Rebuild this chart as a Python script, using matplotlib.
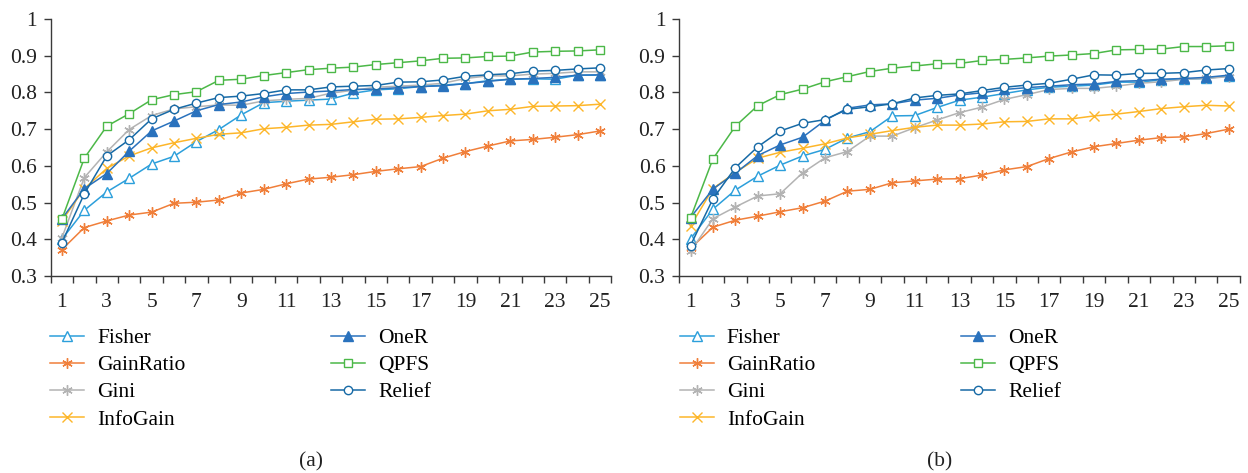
import matplotlib
matplotlib.use("Agg")
import matplotlib.pyplot as plt

plt.rcParams['font.family'] = ['Liberation Serif', 'DejaVu Serif']

x = list(range(1, 26))
methods = ["Fisher", "GainRatio", "Gini", "InfoGain", "OneR", "QPFS", "Relief"]

fisher_a = [0.400, 0.479, 0.529, 0.566, 0.605, 0.626, 0.666, 0.699, 0.739, 0.772, 0.776, 0.779, 0.782, 0.798, 0.807, 0.810, 0.816, 0.820, 0.824, 0.832, 0.836, 0.837, 0.836, 0.847, 0.847]
gainratio_a = [0.372, 0.432, 0.450, 0.466, 0.474, 0.498, 0.501, 0.507, 0.526, 0.536, 0.551, 0.564, 0.569, 0.576, 0.585, 0.592, 0.598, 0.621, 0.639, 0.654, 0.668, 0.672, 0.678, 0.685, 0.695]
gini_a = [0.404, 0.568, 0.638, 0.699, 0.737, 0.755, 0.761, 0.766, 0.765, 0.777, 0.781, 0.784, 0.798, 0.806, 0.814, 0.817, 0.820, 0.825, 0.838, 0.845, 0.845, 0.850, 0.852, 0.856, 0.856]
infogain_a = [0.450, 0.538, 0.593, 0.627, 0.649, 0.663, 0.675, 0.686, 0.690, 0.701, 0.705, 0.711, 0.713, 0.720, 0.727, 0.728, 0.732, 0.737, 0.741, 0.750, 0.754, 0.762, 0.763, 0.764, 0.768]
oner_a = [0.456, 0.538, 0.579, 0.640, 0.695, 0.722, 0.750, 0.767, 0.774, 0.788, 0.797, 0.801, 0.804, 0.808, 0.809, 0.813, 0.816, 0.818, 0.824, 0.830, 0.836, 0.838, 0.841, 0.847, 0.848]
qpfs_a = [0.455, 0.621, 0.708, 0.742, 0.780, 0.794, 0.802, 0.833, 0.836, 0.846, 0.854, 0.862, 0.866, 0.869, 0.876, 0.881, 0.886, 0.893, 0.894, 0.898, 0.899, 0.910, 0.912, 0.913, 0.916]
relief_a = [0.391, 0.524, 0.627, 0.671, 0.728, 0.754, 0.771, 0.786, 0.790, 0.797, 0.807, 0.807, 0.815, 0.817, 0.819, 0.828, 0.829, 0.834, 0.844, 0.848, 0.851, 0.858, 0.860, 0.864, 0.867]

fisher_b = [0.401, 0.482, 0.534, 0.572, 0.602, 0.627, 0.645, 0.676, 0.693, 0.736, 0.737, 0.759, 0.779, 0.787, 0.797, 0.807, 0.814, 0.817, 0.820, 0.828, 0.828, 0.834, 0.836, 0.838, 0.845]
gainratio_b = [0.375, 0.433, 0.452, 0.463, 0.475, 0.486, 0.504, 0.531, 0.536, 0.554, 0.559, 0.564, 0.565, 0.575, 0.589, 0.598, 0.620, 0.638, 0.652, 0.661, 0.670, 0.677, 0.679, 0.688, 0.700]
gini_b = [0.367, 0.456, 0.488, 0.518, 0.524, 0.581, 0.622, 0.639, 0.681, 0.681, 0.704, 0.725, 0.745, 0.760, 0.781, 0.794, 0.808, 0.811, 0.811, 0.817, 0.825, 0.829, 0.836, 0.838, 0.843]
infogain_b = [0.436, 0.538, 0.582, 0.621, 0.637, 0.648, 0.660, 0.676, 0.686, 0.696, 0.705, 0.711, 0.711, 0.714, 0.720, 0.721, 0.728, 0.728, 0.736, 0.741, 0.748, 0.756, 0.761, 0.765, 0.763]
oner_b = [0.459, 0.537, 0.580, 0.628, 0.657, 0.678, 0.724, 0.757, 0.766, 0.769, 0.779, 0.784, 0.793, 0.799, 0.808, 0.813, 0.817, 0.821, 0.823, 0.830, 0.832, 0.836, 0.838, 0.841, 0.847]
qpfs_b = [0.458, 0.619, 0.708, 0.764, 0.794, 0.809, 0.829, 0.843, 0.857, 0.866, 0.872, 0.878, 0.879, 0.887, 0.890, 0.894, 0.899, 0.902, 0.906, 0.916, 0.917, 0.918, 0.925, 0.925, 0.927]
relief_b = [0.383, 0.510, 0.595, 0.652, 0.695, 0.716, 0.726, 0.754, 0.761, 0.769, 0.785, 0.792, 0.796, 0.805, 0.814, 0.820, 0.825, 0.836, 0.848, 0.847, 0.852, 0.852, 0.854, 0.861, 0.865]

yticks = [0.3, 0.4, 0.5, 0.6, 0.7, 0.8, 0.9, 1.0]
ytick_labels = ["0.3", "0.4", "0.5", "0.6", "0.7", "0.8", "0.9", "1"]
xtick_labels = [str(v) for v in range(1, 26, 2)]
panel_labels = ["(a)", "(b)"]

styles = {
    "Fisher":    dict(color="#2C9FDB", marker="^", mfc="white"),
    "GainRatio": dict(color="#F07F3A", marker=(6, 2, 0), mfc="#F07F3A"),
    "Gini":      dict(color="#B3B3B3", marker=(6, 2, 0), mfc="#B3B3B3"),
    "InfoGain":  dict(color="#FDB62A", marker="x", mfc="#FDB62A"),
    "OneR":      dict(color="#2A72BD", marker="^", mfc="#2A72BD"),
    "QPFS":      dict(color="#4CB848", marker="s", mfc="white"),
    "Relief":    dict(color="#176AA6", marker="o", mfc="white"),
}
msize = {"Fisher": 6.5, "GainRatio": 7.5, "Gini": 7.5, "InfoGain": 7, "OneR": 6.5, "QPFS": 6, "Relief": 6}

data = [
    dict(zip(methods, [fisher_a, gainratio_a, gini_a, infogain_a, oner_a, qpfs_a, relief_a])),
    dict(zip(methods, [fisher_b, gainratio_b, gini_b, infogain_b, oner_b, qpfs_b, relief_b])),
]

W, H = 1248, 473
fig = plt.figure(figsize=(W / 100, H / 100), dpi=100)

ax_left_px = [50.7, 679.3]
ax_w_px = 560.5
ax_bottom_px = 276
ax_top_px = 19
caption_x_px = [311, 940]
leg_col1_px = [50, 679.5]
leg_col2_px = [331, 961]
leg_top_px = 328
FS = 15.5
dark = "#3a3a3a"

for i in range(2):
    ax = fig.add_axes([ax_left_px[i] / W, 1 - ax_bottom_px / H, ax_w_px / W, (ax_bottom_px - ax_top_px) / H])
    handles = []
    for m in methods:
        st = styles[m]
        h, = ax.plot(x, data[i][m], color=st["color"], lw=1.1, marker=st["marker"],
                     markersize=msize[m], markerfacecolor=st["mfc"], markeredgecolor=st["color"],
                     markeredgewidth=1.0, label=m, clip_on=False)
        handles.append(h)
    ax.set_xlim(0.5, 25.5)
    ax.set_ylim(0.3, 1.0)
    ax.set_yticks(yticks)
    ax.set_yticklabels(ytick_labels)
    ax.set_xticks(list(range(1, 26, 2)))
    ax.set_xticklabels(xtick_labels)
    ax.set_xticks([v + 0.5 for v in range(0, 26)], minor=True)
    ax.tick_params(axis="x", which="major", length=0, pad=12, labelsize=FS, colors="#222222")
    ax.tick_params(axis="x", which="minor", length=5, width=1.0, color=dark, direction="out")
    ax.tick_params(axis="y", which="major", length=5, width=1.0, color=dark, pad=5, labelsize=FS, labelcolor="#222222")
    for s in ["top", "right"]:
        ax.spines[s].set_visible(False)
    for s in ["left", "bottom"]:
        ax.spines[s].set_color(dark)
        ax.spines[s].set_linewidth(1.0)

    common = dict(frameon=False, loc="upper left", fontsize=FS, borderpad=0, borderaxespad=0,
                  handlelength=1.6, handletextpad=0.6, labelspacing=0.33,
                  bbox_transform=fig.transFigure)
    leg1 = ax.legend(handles[:4], methods[:4],
                     bbox_to_anchor=(leg_col1_px[i] / W, 1 - leg_top_px / H), **common)
    ax.add_artist(leg1)
    ax.legend(handles[4:], methods[4:],
              bbox_to_anchor=(leg_col2_px[i] / W, 1 - leg_top_px / H), **common)

    fig.text(caption_x_px[i] / W, 1 - 462 / H, panel_labels[i], ha="center", va="center",
             fontsize=FS, color="#222222")

fig.savefig("out.png", dpi=100)
